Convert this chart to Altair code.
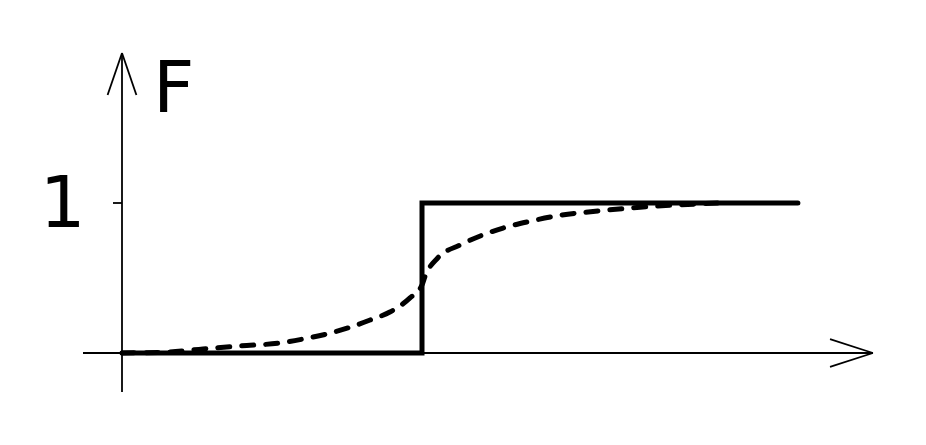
import altair as alt
import pandas as pd

# Step CDF (solid)
step_x = [0.0, 1.0, 2.253]
step_y = [0.0, 1.0, 1.0]

# Smooth CDF (dashed)
curve_x = [0.0, 0.16, 0.27, 0.393, 0.527, 0.603, 0.683, 0.753, 0.827, 0.893, 0.96, 1.0,
           1.01, 1.053, 1.127, 1.2, 1.27, 1.353, 1.46, 1.593, 1.727, 1.86, 1.993]
curve_y = [0.0, 0.007, 0.027, 0.047, 0.067, 0.093, 0.127, 0.167, 0.22, 0.273, 0.367, 0.453,
           0.51, 0.635, 0.72, 0.785, 0.833, 0.875, 0.918, 0.948, 0.972, 0.988, 1.0]

# Axis segments (x, y, x2, y2) in data units: axes, arrowheads, tick
seg_x = [-0.13, 0.0, 2.503, 2.503, 0.0, 0.0, -0.03]
seg_y = [0.0, -0.26, 0.0, 0.0, 2.0, 2.0, 1.0]
seg_x2 = [2.503, 0.0, 2.36, 2.36, -0.048, 0.048, 0.0]
seg_y2 = [0.0, 2.0, 0.093, -0.093, 1.72, 1.72, 1.0]

# Labels
label_text = ["1", "F"]
label_x = [-0.198, 0.103]
label_y = [0.84, 1.607]

xs = alt.Scale(domain=[-0.38, 2.6533], nice=False, zero=False)
ys = alt.Scale(domain=[-0.56, 2.3], nice=False, zero=False)

step_df = pd.DataFrame({"x": step_x, "y": step_y})
curve_df = pd.DataFrame({"x": curve_x, "y": curve_y})
seg_df = pd.DataFrame({"x": seg_x, "y": seg_y, "x2": seg_x2, "y2": seg_y2})
lab_df = pd.DataFrame({"t": label_text, "x": label_x, "y": label_y})

axes = alt.Chart(seg_df).mark_rule(color="black", strokeWidth=1.8).encode(
    x=alt.X("x:Q", scale=xs, axis=None),
    y=alt.Y("y:Q", scale=ys, axis=None),
    x2="x2:Q",
    y2="y2:Q",
)

step = alt.Chart(step_df).mark_line(
    color="black", strokeWidth=5, interpolate="step-after", strokeCap="round"
).encode(
    x=alt.X("x:Q", scale=xs, axis=None),
    y=alt.Y("y:Q", scale=ys, axis=None),
)

curve = alt.Chart(curve_df).mark_line(
    color="black", strokeWidth=5, interpolate="monotone",
    strokeDash=[12, 12], strokeCap="round"
).encode(
    x=alt.X("x:Q", scale=xs, axis=None),
    y=alt.Y("y:Q", scale=ys, axis=None),
)

lab1 = alt.Chart(lab_df[lab_df.t == "1"]).mark_text(
    font="DejaVu Sans", fontSize=72, color="black", align="center", baseline="alphabetic"
).encode(
    x=alt.X("x:Q", scale=xs, axis=None),
    y=alt.Y("y:Q", scale=ys, axis=None),
    text="t:N",
)
labF = alt.Chart(lab_df[lab_df.t == "F"]).mark_text(
    font="DejaVu Sans", fontSize=72, color="black", align="left", baseline="alphabetic"
).encode(
    x=alt.X("x:Q", scale=xs, axis=None),
    y=alt.Y("y:Q", scale=ys, axis=None),
    text="t:N",
)

chart = alt.layer(axes, curve, step, lab1, labF).properties(
    width=910, height=429,
    autosize=alt.AutoSizeParams(type="none"),
    padding=0,
    background="white",
).configure_view(stroke=None)

chart.save("out.html", embed_options={"renderer": "svg", "actions": False})
